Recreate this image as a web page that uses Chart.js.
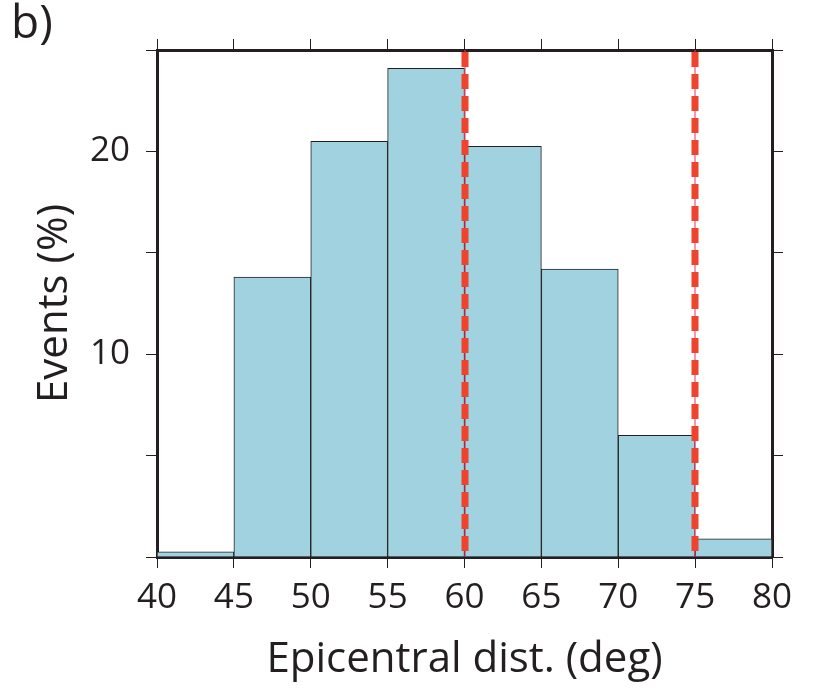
<!DOCTYPE html>
<html>
<head>
<meta charset="utf-8">
<script src="https://cdn.jsdelivr.net/npm/chart.js@4"></script>
<style>
  html, body { margin: 0; padding: 0; background: #fff; }
  #wrap { width: 817px; height: 689px; }
</style>
</head>
<body>
<div id="wrap"><canvas id="hist"></canvas></div>
<script>
// histogram bins (deg) and event percentages
var binStarts = [40, 45, 50, 55, 60, 65, 70, 75];
var binWidth = 5;
var eventPct = [0.25, 13.8, 20.5, 24.1, 20.25, 14.2, 6.0, 0.9];
var markerLines = [60, 75];
var yLabelTicks = [10, 20];

var ink = '#231f20';
var font = '"Open Sans", "Noto Sans", sans-serif';

var points = binStarts.map(function (s, i) {
    return { x: s + binWidth / 2, y: eventPct[i] };
});

// dashed red markers + panel letter
var extras = {
    id: 'extras',
    afterDatasetsDraw: function (chart) {
        var ctx = chart.ctx;
        var area = chart.chartArea;
        var xs = chart.scales.x;
        ctx.save();
        markerLines.forEach(function (v) {
            var px = Math.round(xs.getPixelForValue(v));
            ctx.strokeStyle = '#e8306a';
            ctx.lineWidth = 1;
            ctx.setLineDash([]);
            ctx.beginPath();
            ctx.moveTo(px, area.top);
            ctx.lineTo(px, area.bottom);
            ctx.stroke();
            ctx.strokeStyle = '#ee432c';
            ctx.lineWidth = 7;
            ctx.setLineDash([15, 7]);
            ctx.beginPath();
            ctx.moveTo(px, area.top + 2);
            ctx.lineTo(px, area.bottom);
            ctx.stroke();
        });
        ctx.setLineDash([]);
        ctx.fillStyle = ink;
        ctx.font = '46px ' + font;
        ctx.textBaseline = 'top';
        ctx.fillText('b)', 11, 2);
        ctx.restore();
    }
};

new Chart(document.getElementById('hist').getContext('2d'), {
    type: 'bar',
    data: {
        datasets: [{
            data: points,
            backgroundColor: '#a0d2df',
            borderColor: ink,
            borderWidth: 1,
            barPercentage: 1,
            categoryPercentage: 1,
            grouped: false
        }]
    },
    options: {
        responsive: true,
        maintainAspectRatio: false,
        animation: false,
        layout: { padding: { left: 30, right: 0, top: 0, bottom: 0 } },
        plugins: { legend: { display: false }, tooltip: { enabled: false } },
        scales: {
            x: {
                type: 'linear',
                min: 40, max: 80,
                offset: false,
                ticks: { stepSize: 5, color: ink, font: { family: font, size: 35 }, padding: 9, maxRotation: 0 },
                grid: { offset: false, drawOnChartArea: false, tickLength: 11, color: ink, lineWidth: 1 },
                border: { color: ink, width: 3 },
                title: { display: true, text: 'Epicentral dist. (deg)', color: ink, font: { family: font, size: 42 }, padding: { top: 0 } },
                afterFit: function (s) { s.height = 689 - 557; }
            },
            x2: {
                type: 'linear',
                position: 'top',
                min: 40, max: 80,
                offset: false,
                ticks: { stepSize: 5, display: false },
                grid: { offset: false, drawOnChartArea: false, tickLength: 11, color: ink, lineWidth: 1 },
                border: { color: ink, width: 3 },
                afterFit: function (s) { s.height = 50; }
            },
            y: {
                min: 0, max: 25,
                ticks: {
                    stepSize: 5, color: ink, font: { family: font, size: 35 }, padding: 16,
                    callback: function (v) { return yLabelTicks.indexOf(v) >= 0 ? String(v) : ''; }
                },
                grid: { drawOnChartArea: false, tickLength: 11, color: ink, lineWidth: 1 },
                border: { color: ink, width: 3 },
                title: { display: true, text: 'Events (%)', color: ink, font: { family: font, size: 42 }, padding: 0 },
                afterFit: function (s) { s.width = 157 - 30; }
            },
            y2: {
                position: 'right',
                min: 0, max: 25,
                ticks: { stepSize: 5, display: false },
                grid: { drawOnChartArea: false, tickLength: 11, color: ink, lineWidth: 1 },
                border: { color: ink, width: 3 },
                afterFit: function (s) { s.width = 817 - 772; }
            }
        }
    },
    plugins: [extras]
});
</script>
</body>
</html>
